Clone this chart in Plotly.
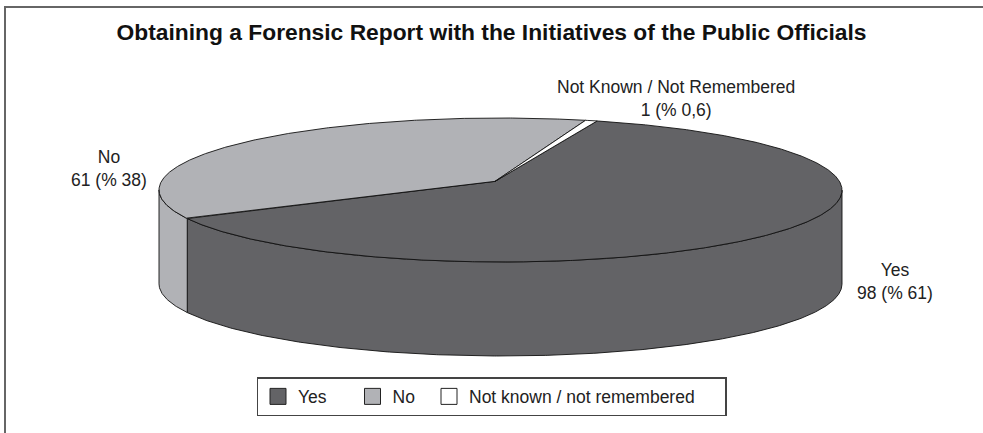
import numpy as np
import plotly.graph_objects as go

# ---------------- data ----------------
categories = ["Yes", "No", "Not Known / Not Remembered"]
legend_names = ["Yes", "No", "Not known / not remembered"]
counts = [98, 61, 1]
colors = ["#636366", "#b1b2b6", "#ffffff"]
TITLE = "Obtaining a Forensic Report with the Initiatives of the Public Officials"

# ---------------- geometry / style ----------------
W, H = 983, 433
RIM_LEFT, RIM_RIGHT, RIM_TOP, RIM_BOTTOM = 159, 842, 118, 262
DEPTH = 94
K_PERSP = 0.12
M_PERSP = 0.016
START_ANGLE = 70.5
FONT = "Liberation Sans, Arial, sans-serif"
LABEL_STYLE = [
    dict(xanchor="left", yanchor="middle", xshift=74, yshift=-50),
    dict(xanchor="right", yanchor="middle", xshift=-102, yshift=-28),
    dict(xanchor="center", yanchor="bottom", xshift=85, yshift=-1),
]
LEGEND_WIDTHS = [49.5, 31.5, 251]


def proj_uv(phi_deg, r=1.0):
    p = np.radians(phi_deg)
    c, s = r * np.cos(p), r * np.sin(p)
    w = 1 + K_PERSP * s - M_PERSP * c
    return c / w, -s / w


dense = np.linspace(0, 360, 3601)
du, dv = proj_uv(dense)
A = (RIM_RIGHT - RIM_LEFT) / (du.max() - du.min())
B = (RIM_BOTTOM - RIM_TOP) / (dv.max() - dv.min())
X0 = RIM_LEFT - A * du.min()
Y0 = RIM_TOP - B * dv.min()
PHI_LEFT = dense[np.argmin(du)]
PHI_RIGHT = dense[np.argmax(du)]


def to_screen(phi, r=1.0):
    uu, vv = proj_uv(phi, r)
    return X0 + A * uu, Y0 + B * vv


def arc(a1, a2):
    n = max(3, int(abs(a2 - a1) * 3) + 2)
    return np.linspace(a1, a2, n)


total = sum(counts)
slices = []
cum = 0.0
for c in counts:
    span = 360.0 * c / total
    a2 = START_ANGLE - cum
    a1 = a2 - span
    slices.append((a1, a2))
    cum += span

fig = go.Figure()

# walls (front visible part)
for (a1, a2), col in zip(slices, colors):
    for shift in (-720, -360, 0, 360):
        lo = max(a1, PHI_LEFT + shift)
        hi = min(a2, PHI_RIGHT + shift)
        if hi > lo:
            ph = arc(lo, hi)
            xt, yt = to_screen(ph)
            xs = np.concatenate([xt, xt[::-1], xt[:1]])
            ys = np.concatenate([yt, (yt + DEPTH)[::-1], yt[:1]])
            fig.add_trace(go.Scatter(x=xs, y=ys, mode="lines", fill="toself",
                                     fillcolor=col, line=dict(color="#111", width=0.9),
                                     hoverinfo="skip", showlegend=False))

# top faces
for (a1, a2), col, name, c in zip(slices, colors, categories, counts):
    ph = arc(a2, a1)
    xt, yt = to_screen(ph)
    xs = np.concatenate([[X0], xt, [X0]])
    ys = np.concatenate([[Y0], yt, [Y0]])
    fig.add_trace(go.Scatter(x=xs, y=ys, mode="lines", fill="toself",
                             fillcolor=col, line=dict(color="#111", width=0.9),
                             name=name, hoverinfo="text",
                             text=f"{name}: {c}", showlegend=False))

# legend entries
for name, col, lw in zip(legend_names, colors, LEGEND_WIDTHS):
    fig.add_trace(go.Scatter(x=[None], y=[None], mode="markers", name=name,
                             marker=dict(symbol="square", size=16, color=col,
                                         line=dict(color="#222", width=1)),
                             legendwidth=lw, showlegend=True))


def pct_text(c):
    p = 100.0 * c / total
    if p >= 1:
        return f"{round(p):.0f}"
    return f"{p:.1f}".replace(".", ",")


annotations = []
for (a1, a2), name, c, st in zip(slices, categories, counts, LABEL_STYLE):
    mid = (a1 + a2) / 2
    mx, my = to_screen(mid)
    annotations.append(dict(x=float(mx), y=float(my), xref="x", yref="y",
                            text=f"{name}<br>{c} (% {pct_text(c)})",
                            showarrow=False, align="center",
                            font=dict(family=FONT, size=17.5, color="#222"), **st))

fig.update_layout(
    width=W, height=H, autosize=False,
    margin=dict(l=0, r=0, t=0, b=0),
    paper_bgcolor="white", plot_bgcolor="white",
    xaxis=dict(range=[0, W], visible=False, fixedrange=True),
    yaxis=dict(range=[H, 0], visible=False, fixedrange=True),
    title=dict(text=f"<b>{TITLE}</b>", x=0.5, xanchor="center",
               y=1 - 32 / H, yanchor="middle",
               font=dict(family=FONT, size=22.8, color="#111")),
    legend=dict(orientation="h", x=0.5, xanchor="center",
                y=1 - 377 / H, yanchor="top",
                bordercolor="#444", borderwidth=1.5, bgcolor="white",
                font=dict(family=FONT, size=17.5, color="#222")),
    annotations=annotations,
    shapes=[
        dict(type="line", xref="x", yref="y", x0=4, x1=W, y0=7, y1=7,
             line=dict(color="#666", width=2)),
        dict(type="line", xref="x", yref="y", x0=5, x1=5, y0=7, y1=H,
             line=dict(color="#666", width=2)),
    ],
)

fig.write_html("out.html")
